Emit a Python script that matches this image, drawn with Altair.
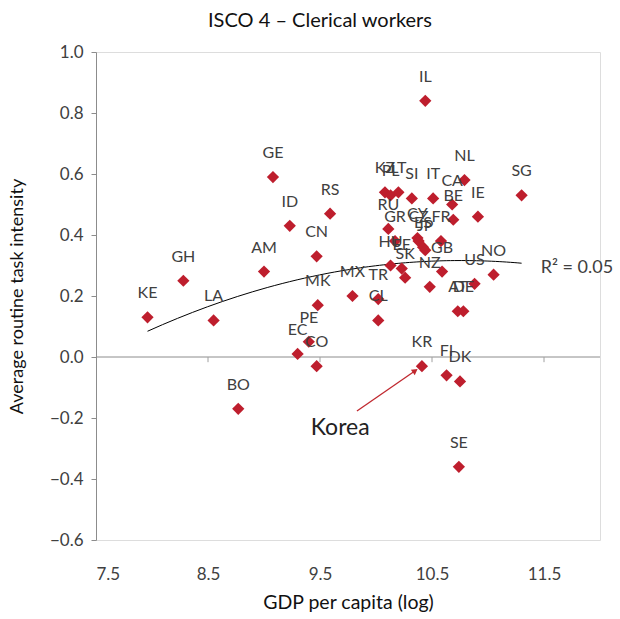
import altair as alt
import pandas as pd

# Country codes, log GDP per capita and average routine task intensity (ISCO 4)
codes = ["KE", "GH", "LA", "BO", "AM", "GE", "ID", "EC", "PE", "CN", "MK", "CO",
         "RS", "MX", "TR", "CL", "KZ", "PL", "LT", "RU", "GR", "HU", "EE", "SK",
         "SI", "CY", "CZ", "ES", "JP", "IT", "CA", "BE", "FR", "GB", "NZ", "IL",
         "NL", "IE", "SG", "US", "NO", "AT", "DE", "KR", "FI", "DK", "SE"]
gdp_log = [7.96, 8.28, 8.55, 8.77, 9.00, 9.08, 9.23, 9.30, 9.40, 9.47, 9.48, 9.47,
           9.59, 9.79, 10.02, 10.02, 10.08, 10.13, 10.20, 10.11, 10.17, 10.13, 10.23, 10.26,
           10.32, 10.37, 10.38, 10.42, 10.44, 10.51, 10.68, 10.69, 10.58, 10.59, 10.48, 10.44,
           10.79, 10.91, 11.30, 10.88, 11.05, 10.73, 10.78, 10.41, 10.63, 10.75, 10.74]
rti = [0.13, 0.25, 0.12, -0.17, 0.28, 0.59, 0.43, 0.01, 0.05, 0.33, 0.17, -0.03,
       0.47, 0.20, 0.19, 0.12, 0.54, 0.53, 0.54, 0.42, 0.38, 0.30, 0.29, 0.26,
       0.52, 0.39, 0.38, 0.36, 0.35, 0.52, 0.50, 0.45, 0.38, 0.28, 0.23, 0.84,
       0.58, 0.46, 0.53, 0.24, 0.27, 0.15, 0.15, -0.03, -0.06, -0.08, -0.36]

x_ticks = [7.5, 8.5, 9.5, 10.5, 11.5]
y_ticks = [-0.6, -0.4, -0.2, 0.0, 0.2, 0.4, 0.6, 0.8, 1.0]

df = pd.DataFrame({"code": codes, "gdp": gdp_log, "rti": rti})

FONT = "Lato"
RED = "#BE1E2D"

x_enc = alt.X("gdp:Q", scale=alt.Scale(domain=[7.5, 12.0], nice=False, zero=False),
              axis=alt.Axis(values=x_ticks, format=".1f", domain=False, ticks=False,
                            grid=False, labelFontSize=17, labelColor="#404040",
                            labelPadding=26, labelFont=FONT,
                            title="GDP per capita (log)", titleFont=FONT,
                            titleFontSize=19.5, titleFontWeight="normal",
                            titleColor="#111", titlePadding=11))
y_enc = alt.Y("rti:Q", scale=alt.Scale(domain=[-0.6, 1.0], nice=False, zero=False),
              axis=alt.Axis(values=y_ticks, format=".1f", domain=True,
                            domainColor="#8c8c8c", tickColor="#8c8c8c", tickSize=5,
                            grid=False, labelFontSize=17, labelColor="#404040",
                            labelPadding=8, labelFont=FONT,
                            title="Average routine task intensity", titleFont=FONT,
                            titleFontSize=18, titleFontWeight="normal",
                            titleColor="#111", titlePadding=23))

base = alt.Chart(df)

# Horizontal axis line at zero with its tick marks
zero_line = alt.Chart(pd.DataFrame({"y": [0.0]})).mark_rule(
    color="#8c8c8c", strokeWidth=1).encode(y=alt.Y("y:Q"))
zero_ticks = alt.Chart(pd.DataFrame({"t": x_ticks[1:]})).mark_rule(
    color="#a0a0a0", strokeWidth=1).encode(
    x=alt.X("t:Q"), y=alt.datum(0.0), y2=alt.datum(-0.017))

# Second-order polynomial trend
trend = base.transform_regression("gdp", "rti", method="poly", order=2).mark_line(
    color="black", strokeWidth=1).encode(x="gdp:Q", y="rti:Q")

points = base.mark_point(shape="diamond", filled=True, size=150, color=RED,
                         opacity=1).encode(x=x_enc, y=y_enc)

labels = base.mark_text(dy=-24, fontSize=16, color="#404040", font=FONT).encode(
    x="gdp:Q", y="rti:Q", text="code:N")

r2 = alt.Chart(pd.DataFrame({"x": [11.47], "y": [0.292], "t": ["R² = 0.05"]})).mark_text(
    align="left", fontSize=18, color="#404040", font=FONT).encode(
    x="x:Q", y="y:Q", text="t:N")

# Korea annotation with arrow
arrow = pd.DataFrame({"x": [9.83], "y": [-0.177], "x2": [10.35], "y2": [-0.045]})
arrow_line = alt.Chart(arrow).mark_rule(color="#C0282F", strokeWidth=1.3).encode(
    x="x:Q", y="y:Q", x2="x2:Q", y2="y2:Q")
arrow_head = alt.Chart(arrow).mark_point(shape="triangle-up", filled=True, size=45,
                                         angle=55, color="#C0282F", opacity=1).encode(
    x="x2:Q", y="y2:Q")
korea = alt.Chart(pd.DataFrame({"x": [9.68], "y": [-0.233], "t": ["Korea"]})).mark_text(
    fontSize=23, color="#222", font=FONT).encode(x="x:Q", y="y:Q", text="t:N")

chart = alt.layer(zero_line, zero_ticks, trend, points, labels, r2,
                  arrow_line, arrow_head, korea).properties(
    width=504, height=488,
    title=alt.TitleParams("ISCO 4 – Clerical workers", font=FONT, fontSize=20,
                          fontWeight="normal", color="#111", anchor="middle",
                          dx=-28, offset=12),
    autosize=alt.AutoSizeParams(type="none"),
    padding={"left": 96, "top": 52, "right": 20, "bottom": 79},
).configure_view(stroke=None).configure(background="white")

chart.save("out.html", embed_options={"renderer": "svg", "actions": False})
